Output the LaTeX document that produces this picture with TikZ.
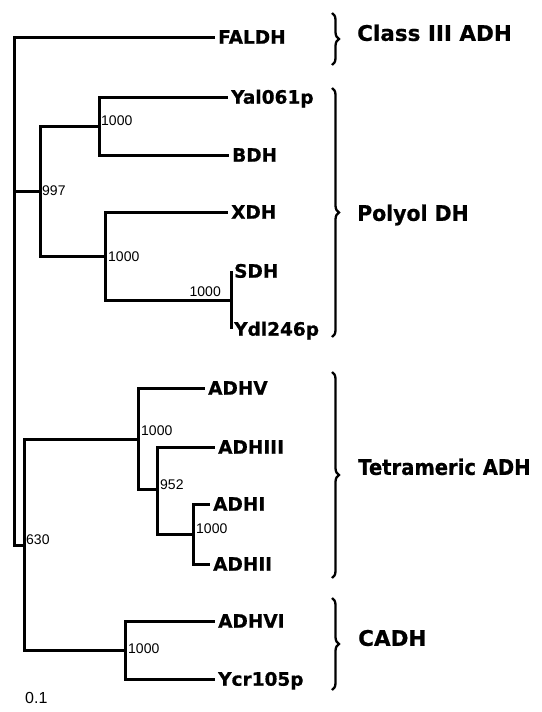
\documentclass[tikz,border=0pt]{standalone}
\usepackage{fontspec}
\usepackage{graphicx}
\newfontfamily\dv{DejaVu Sans}[BoldFeatures={FakeBold=0.6}]
\newfontfamily\hel{Liberation Sans}
\usetikzlibrary{decorations.pathreplacing}
\begin{document}
\begin{tikzpicture}[x=1pt,y=-1pt,
  branch/.style={line width=3pt, line join=miter},
  leaf/.style={anchor=west, inner xsep=3pt, inner ysep=0pt, text height=13.4pt, text depth=0pt, font=\dv\bfseries\fontsize{18.5}{18.5}\selectfont},
  boot/.style={anchor=west, inner sep=0pt, font=\hel\fontsize{14}{14}\selectfont},
  group/.style={anchor=west, inner sep=0pt, text height=15.7pt, text depth=0pt, font=\dv\bfseries\fontsize{21.5}{21.5}\selectfont},
  grpbrace/.style={decorate, decoration={brace, amplitude=7pt}, line width=2.3pt}]
\fill[white] (0,0) rectangle (541,712);
\useasboundingbox (0,0) rectangle (541,712);
% leaves
\node[leaf] (faldh) at (215,37) {FALDH};
\node[leaf] (yal) at (228,97) {Yal061p};
\node[leaf] (bdh) at (229,155) {BDH};
\node[leaf] (xdh) at (228,212) {XDH};
\node[leaf] (sdh) at (231,271) {SDH};
\node[leaf] (ydl) at (231,329) {Ydl246p};
\node[leaf] (adhv) at (205,388) {ADHV};
\node[leaf] (adhiii) at (215,447) {ADHIII};
\node[leaf] (adhi) at (210,504) {ADHI};
\node[leaf] (adhii) at (210,564) {ADHII};
\node[leaf] (adhvi) at (215,621) {ADHVI};
\node[leaf] (ycr) at (215,679) {Ycr105p};
% internal nodes
\coordinate (R) at (14,291);
\coordinate (P) at (40,191);
\coordinate (A) at (99,126);
\coordinate (B) at (105,256);
\coordinate (C) at (231,300);
\coordinate (G) at (24,545);
\coordinate (T) at (138,439);
\coordinate (E) at (157,489);
\coordinate (D) at (193,534);
\coordinate (F) at (125,650);
% branches
\draw[branch] (R) |- (faldh.west);
\draw[branch] (R) |- (P);
\draw[branch] (R) |- (G);
\draw[branch] (P) |- (A);
\draw[branch] (P) |- (B);
\draw[branch] (A) |- (yal.west);
\draw[branch] (A) |- (bdh.west);
\draw[branch] (B) |- (xdh.west);
\draw[branch] (B) |- (C);
\draw[branch] (C) -- (C |- sdh.west);
\draw[branch] (C) -- (C |- ydl.west);
\draw[branch] (G) |- (T);
\draw[branch] (G) |- (F);
\draw[branch] (T) |- (adhv.west);
\draw[branch] (T) |- (E);
\draw[branch] (E) |- (adhiii.west);
\draw[branch] (E) |- (D);
\draw[branch] (D) |- (adhi.west);
\draw[branch] (D) |- (adhii.west);
\draw[branch] (F) |- (adhvi.west);
\draw[branch] (F) |- (ycr.west);
% bootstrap values
\node[boot] (bA) at (101,121) {1000};
\node[boot] (bP) at (42,191) {997};
\node[boot] (bB) at (108,257) {1000};
\node[boot, anchor=east] (bC) at (221,291.5) {1000};
\node[boot] (bT) at (141,431) {1000};
\node[boot] (bE) at (160,485) {952};
\node[boot] (bD) at (196,529) {1000};
\node[boot] (bG) at (26,540) {630};
\node[boot] (bF) at (128,649) {1000};
\node[boot, font=\hel\fontsize{16}{16}\selectfont] (scl) at (25,698) {0.1};
% groups
\draw[grpbrace] (332,13) -- (332,65);
\node[group] (g1) at (357,33) {Class III ADH};
\draw[grpbrace] (332,88) -- (332,337);
\node[group] (g2) at (357,213) {\scalebox{0.95}[1]{Polyol DH}};
\draw[grpbrace] (332,372) -- (332,578);
\node[group] (g3) at (358,467) {\scalebox{0.91}[1]{Tetrameric ADH}};
\draw[grpbrace] (332,598) -- (332,690);
\node[group] (g4) at (358,638) {CADH};
\end{tikzpicture}
\end{document}
